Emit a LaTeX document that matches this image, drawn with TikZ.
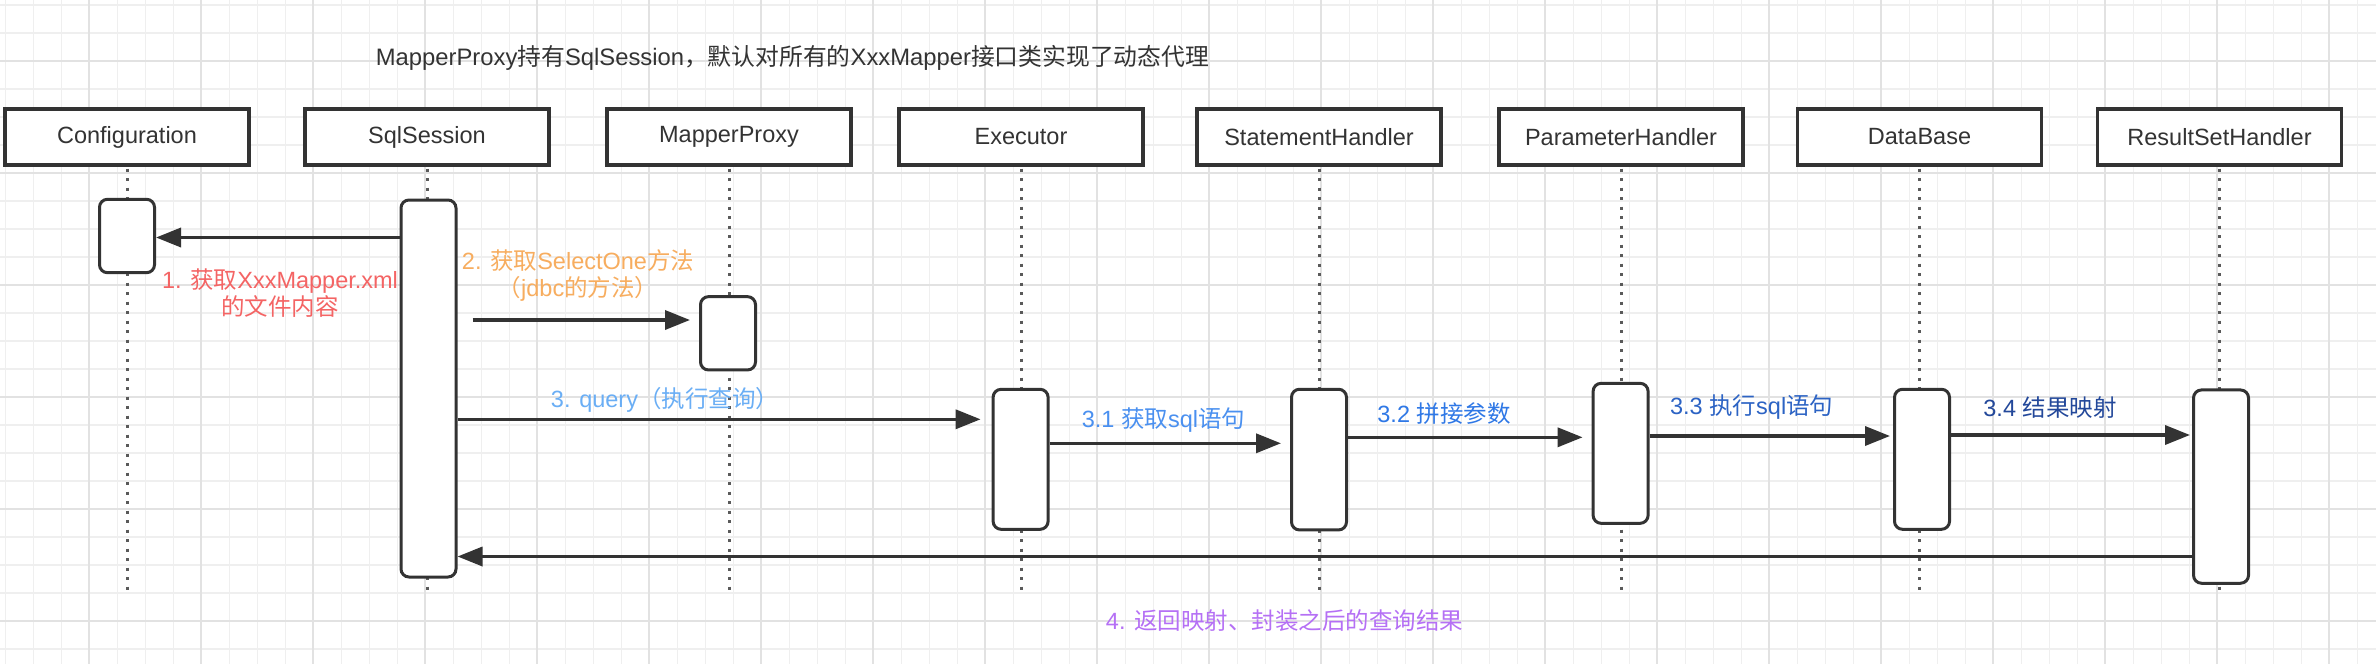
\documentclass[tikz,border=0pt]{standalone}
\usepackage{fontspec}
\setmainfont{Liberation Sans}
\newfontfamily\cjk{Noto Sans CJK SC}
\usetikzlibrary{arrows.meta}
\definecolor{ink}{HTML}{333333}
\definecolor{dotc}{HTML}{5A5A5A}
\definecolor{gminor}{HTML}{EFEFEF}
\definecolor{gmajor}{HTML}{E2E2E2}
\definecolor{cA}{HTML}{F46464}
\definecolor{cB}{HTML}{F7AD5F}
\definecolor{cC}{HTML}{6AAEF5}
\definecolor{cD}{HTML}{4A90F0}
\definecolor{cE}{HTML}{2F78E6}
\definecolor{cF}{HTML}{2C63C4}
\definecolor{cG}{HTML}{23489A}
\definecolor{cH}{HTML}{B570F5}
\newcommand{\fsz}{\fontsize{23.5}{27}\selectfont}
\tikzset{
  head/.style={draw=ink, line width=3.2pt, fill=white, minimum width=244pt, minimum height=56pt, inner sep=0pt, font=\fsz, text=ink},
  act/.style={draw=ink, line width=3pt, fill=white, rounded corners=8pt, minimum width=55pt, inner sep=0pt},
  life/.style={draw=dotc, line width=3pt, dash pattern=on 3pt off 6.5pt},
  msg/.style={draw=ink, line width=3.5pt, -{Triangle[length=25pt,width=19pt]}},
  lbl/.style={font=\fsz, inner sep=0pt, align=center},
  gmin/.style={draw=gminor, line width=1.5pt},
  gmaj/.style={draw=gmajor, line width=1.8pt},
}
\begin{document}
\begin{tikzpicture}[x=1pt,y=-1pt]
\fill[white] (0,0) rectangle (2376,664);
\useasboundingbox (0,0) rectangle (2376,664);
% grid
\foreach \i in {0,...,84} { \draw[gmin] ({5.3+28*\i},0) -- ({5.3+28*\i},664); }
\foreach \i in {0,...,23} { \draw[gmin] (0,{5+28*\i}) -- (2376,{5+28*\i}); }
\foreach \i in {0,...,20} { \draw[gmaj] ({89.3+112*\i},0) -- ({89.3+112*\i},664); }
\foreach \i in {0,...,5} { \draw[gmaj] (0,{61+112*\i}) -- (2376,{61+112*\i}); }

% title
\node[lbl, text=ink, font=\fontsize{23.8}{27}\selectfont] (title) at (792.5,58)
  {MapperProxy{\cjk 持有}SqlSession{\cjk ，默认对所有的}XxxMapper{\cjk 接口类实现了动态代理}};

% heads
\node[head] (h1) at (127,137) {Configuration};
\node[head] (h2) at (427,137) {SqlSession};
\node[head] (h3) at (729,137) {MapperProxy};
\node[head] (h4) at (1021,137) {Executor};
\node[head] (h5) at (1319,137) {StatementHandler};
\node[head] (h6) at (1621,137) {ParameterHandler};
\node[head] (h7) at (1919.5,137) {DataBase};
\node[head] (h8) at (2219.5,137) {ResultSetHandler};

% lifelines
\coordinate (lend) at (0,590);
\foreach \h in {h1,h2,h3,h4,h5,h6,h7,h8} { \draw[life] ([yshift=-2pt]\h.south) -- (\h.south |- lend); }

% activations
\node[act, minimum height=73.4pt] (a1) at (127,236) {};
\node[act, minimum height=377pt] (a2) at (428.5,388.5) {};
\node[act, minimum height=73.3pt] (a3) at (728,333.3) {};
\node[act, minimum height=140pt] (a4) at (1020.6,459.3) {};
\node[act, minimum height=140.7pt] (a5) at (1319,459.6) {};
\node[act, minimum height=140pt] (a6) at (1620.6,453.3) {};
\node[act, minimum height=140pt] (a7) at (1922,459.3) {};
\node[act, minimum height=193.3pt] (a8) at (2221,486.6) {};

% message rows
\coordinate (r1) at (0,237.5);
\coordinate (r2) at (0,320);
\coordinate (r3) at (0,419.3);
\coordinate (r31) at (0,443.3);
\coordinate (r32) at (0,437.3);
\coordinate (r33) at (0,436);
\coordinate (r34) at (0,435);
\coordinate (r4) at (0,556.5);

\draw[msg] (a2.west |- r1) -- (a1.east |- r1);
\draw[msg, shorten <=15pt, shorten >=9pt] (a2.east |- r2) -- (a3.west |- r2);
\draw[msg, shorten >=11pt] (a2.east |- r3) -- (a4.west |- r3);
\draw[msg, shorten >=9pt] (a4.east |- r31) -- (a5.west |- r31);
\draw[msg, shorten >=9pt] (a5.east |- r32) -- (a6.west |- r32);
\draw[msg, shorten >=3pt] (a6.east |- r33) -- (a7.west |- r33);
\draw[msg, shorten >=2pt] (a7.east |- r34) -- (a8.west |- r34);
\draw[msg] (a8.west |- r4) -- (a2.east |- r4);

% labels
\node[lbl, text=cA] (l1) at (280,293.5) {1. {\cjk 获取}XxxMapper.xml\\{\cjk 的文件内容}};
\node[lbl, text=cB] (l2) at (578,275.5) {2. {\cjk 获取}SelectOne{\cjk 方法}\\{\cjk （}jdbc{\cjk 的方法）}};
\node[lbl, text=cC] (l3) at (665,400) {3. query{\cjk （执行查询）}};
\node[lbl, text=cD] (l31) at (1163.5,420) {3.1 {\cjk 获取}sql{\cjk 语句}};
\node[lbl, text=cE] (l32) at (1444,413.3) {3.2 {\cjk 拼接参数}};
\node[lbl, text=cF] (l33) at (1751.6,407.3) {3.3 {\cjk 执行}sql{\cjk 语句}};
\node[lbl, text=cG] (l34) at (2050,407.3) {3.4 {\cjk 结果映射}};
\node[lbl, text=cH] (l4) at (1284.6,621) {4. {\cjk 返回映射、封装之后的查询结果}};
\end{tikzpicture}
\end{document}
